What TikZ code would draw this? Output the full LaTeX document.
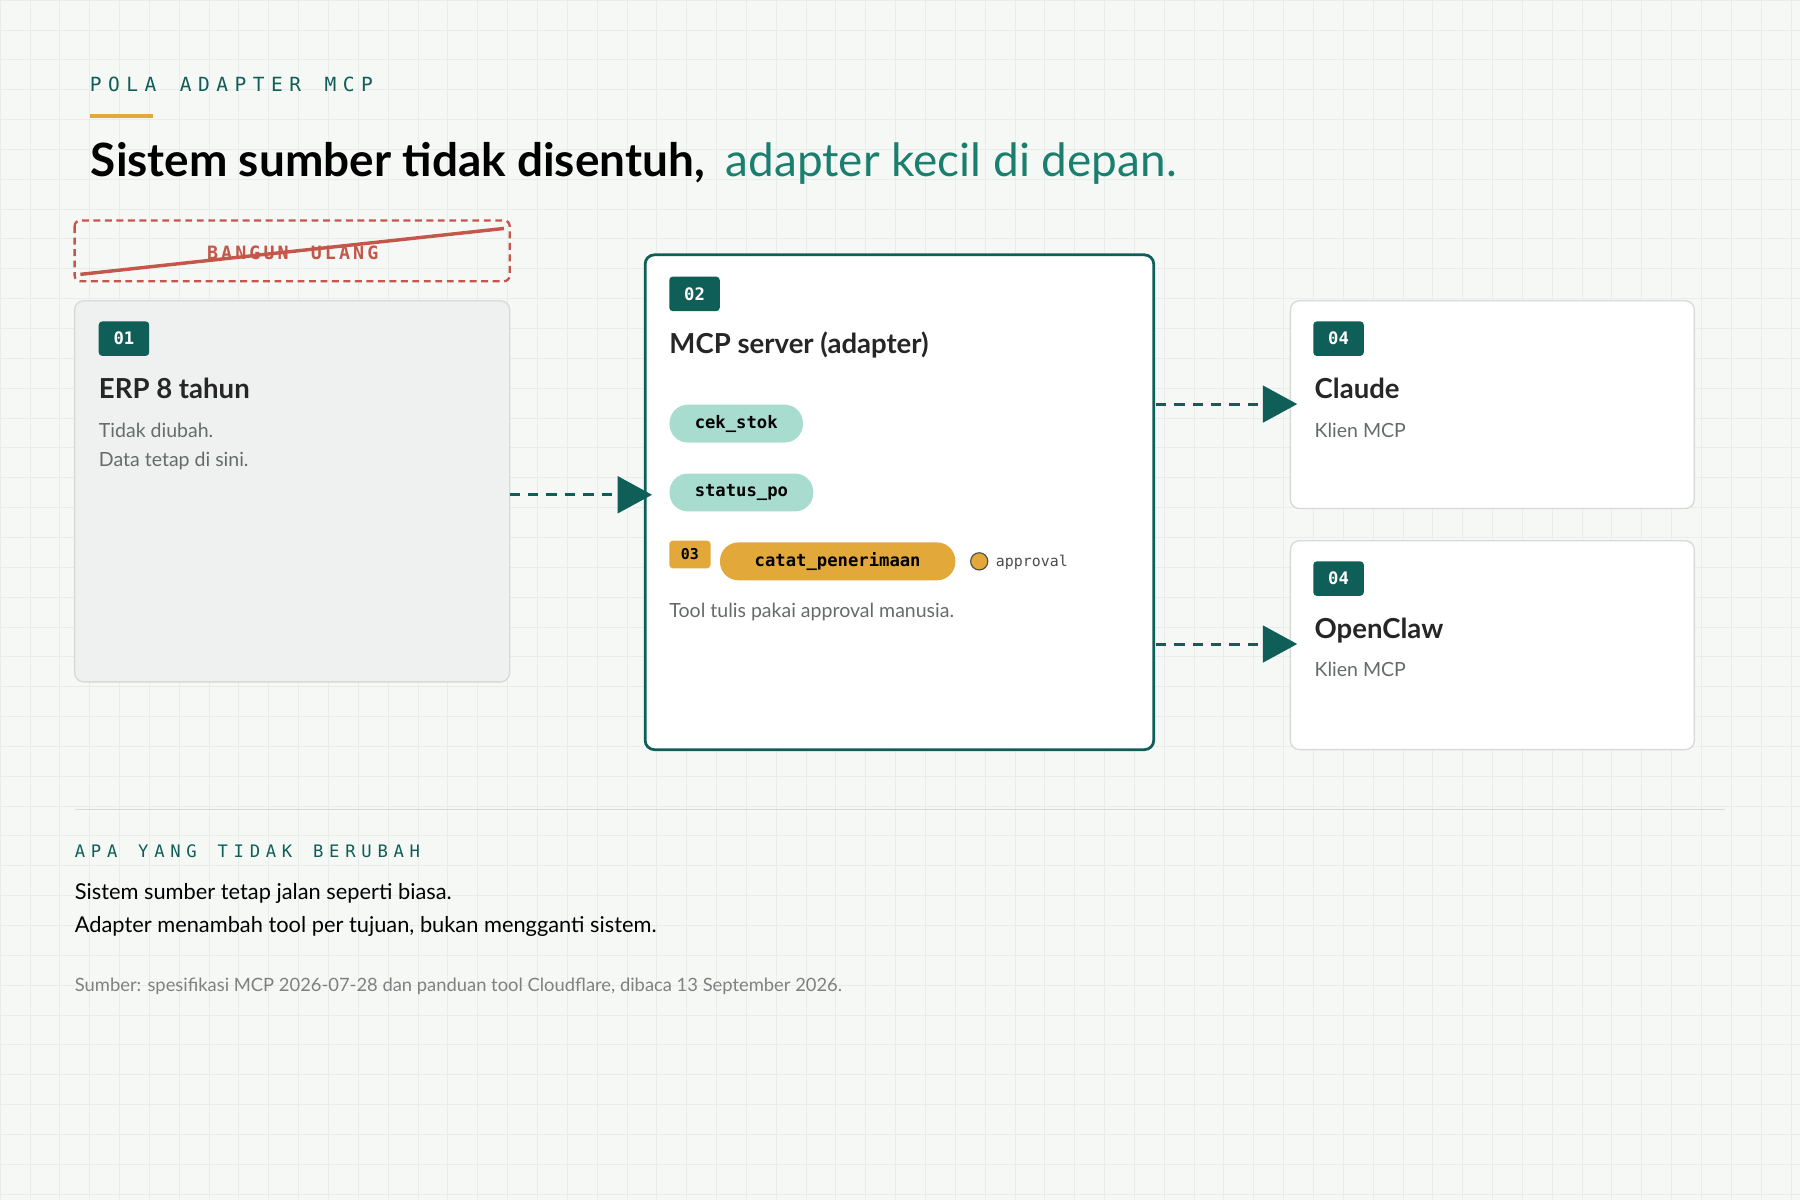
\documentclass[tikz,border=0pt]{standalone}
\usepackage{fontspec}
\setmainfont{Lato}
\newfontfamily\monof{DejaVu Sans Mono}
\usetikzlibrary{arrows.meta}
\definecolor{teal}{HTML}{0F5E57}
\definecolor{tealt}{HTML}{1A7F6E}
\definecolor{mint}{HTML}{A8DCCF}
\definecolor{amber}{HTML}{E3A83A}
\definecolor{redx}{HTML}{C4574A}
\definecolor{bg}{HTML}{F6F8F6}
\definecolor{gridc}{HTML}{E8ECEA}
\definecolor{grayt}{HTML}{666B6A}
\definecolor{boxg}{HTML}{EEF1EF}
\begin{document}
\begin{tikzpicture}[x=1pt,y=-1pt,
 card/.style={draw=#1,line width=1.2pt,rounded corners=8pt},
 badge/.style={fill=teal,text=white,rounded corners=3pt,font=\monof\bfseries\fontsize{15}{15}\selectfont,minimum width=44pt,minimum height=30pt,inner sep=0pt},
 tool/.style={fill=#1,rounded corners=16pt,font=\monof\bfseries\fontsize{15}{15}\selectfont,minimum height=33pt,inner xsep=22pt,inner ysep=0pt},
 ttl/.style={anchor=base west,inner sep=0pt,font=\bfseries\fontsize{24}{24}\selectfont,text=black!85},
 sub/.style={anchor=north west,inner sep=0pt,font=\fontsize{17}{26}\selectfont,text=grayt,align=left},
 arr/.style={teal,line width=2.6pt,dash pattern=on 9pt off 7pt,-{Triangle[length=30pt,width=32pt]}}]
\useasboundingbox (0,0) rectangle (1568,1045);
\fill[bg] (0,0) rectangle (1568,1045);
\foreach \i in {0,26,...,1568} \draw[gridc,line width=0.5pt] (\i,0)--(\i,1045);
\foreach \j in {0,26,...,1045} \draw[gridc,line width=0.5pt] (0,\j)--(1568,\j);
% header
\node[anchor=base west,inner sep=0pt,text=teal,font=\monof\fontsize{17}{17}\selectfont] (kicker) at (78,80) {P\,\,O\,\,L\,\,A\ \ A\,\,D\,\,A\,\,P\,\,T\,\,E\,\,R\ \ M\,\,C\,\,P};
\draw[amber,line width=3pt] (78,101)--(133,101);
\node[anchor=base west,font=\bfseries\fontsize{40}{40}\selectfont,inner sep=0pt] (title) at (79,154) {Sistem sumber tidak disentuh,};
\node[anchor=base west,font=\fontsize{40}{40}\selectfont,text=tealt,inner sep=0pt] (title2) at (632,154) {adapter kecil di depan.};
% bangun ulang
\draw[redx,line width=2pt,dash pattern=on 6pt off 4pt,rounded corners=5pt] (65,192) rectangle (444,245);
\node[text=redx,font=\monof\bfseries\fontsize{16}{16}\selectfont] (bu) at (255,220) {B\,A\,N\,G\,U\,N\ \ U\,L\,A\,N\,G};
\draw[redx,line width=3pt] (70,239)--(439,199);
% ERP
\draw[card=black!15,fill=boxg] (65,262) rectangle (444,594);
\node[badge] (b1) at (108,295) {01};
\node[ttl] (erp) at (86,347) {ERP 8 tahun};
\node[sub] (erpd) at (86,368) {Tidak diubah.\\Data tetap di sini.};
\coordinate (erpR) at (444,431);
% MCP
\draw[card=teal,fill=white,line width=2.4pt] (562,222) rectangle (1005,653);
\node[badge] (b2) at (605,256) {02};
\node[ttl] (mcp) at (583,308) {MCP server (adapter)};
\node[tool=mint,anchor=west] (t1) at (583,369) {cek\_stok};
\node[tool=mint,anchor=west] (t2) at (583,429) {status\_po};
\node[fill=amber,rounded corners=3pt,font=\monof\bfseries\fontsize{13}{13}\selectfont,minimum width=36pt,minimum height=24pt,inner sep=0pt] (b3) at (601,483) {03};
\node[tool=amber,anchor=west,minimum width=205pt] (t3) at (627,489) {catat\_penerimaan};
\draw[fill=amber,draw=black!70,line width=1pt] (853,489) circle (7.5pt);
\node[anchor=west,font=\monof\fontsize{13}{13}\selectfont,text=black!70] (ap) at (864,490) {approval};
\node[sub] (mcpd) at (583,525) {Tool tulis pakai approval manusia.};
% clients
\draw[card=black!15,fill=white] (1124,262) rectangle (1476,443);
\node[badge] (b4a) at (1166,295) {04};
\node[ttl] (cl) at (1145,347) {Claude};
\node[sub] (cld) at (1145,368) {Klien MCP};
\draw[card=black!15,fill=white] (1124,471) rectangle (1476,653);
\node[badge] (b4b) at (1166,504) {04};
\node[ttl] (oc) at (1145,556) {OpenClaw};
\node[sub] (ocd) at (1145,577) {Klien MCP};
\coordinate (m1) at (1007,352); \coordinate (c1) at (1130,352);
\coordinate (m2) at (1007,561); \coordinate (c2) at (1130,561);
\coordinate (mL) at (568,431);
\draw[arr] (erpR)--(mL);
\draw[arr] (m1)--(c1);
\draw[arr] (m2)--(c2);
% footer
\draw[black!15,line width=1pt] (65,705)--(1503,705);
\node[anchor=base west,inner sep=0pt,text=teal,font=\monof\fontsize{15}{15}\selectfont] (k2) at (65,747) {A\,\,P\,\,A\ \ Y\,\,A\,\,N\,\,G\ \ T\,\,I\,\,D\,\,A\,\,K\ \ B\,\,E\,\,R\,\,U\,\,B\,\,A\,\,H};
\node[anchor=north west,font=\fontsize{19}{29}\selectfont,align=left,inner sep=0pt] (ft) at (65,769) {Sistem sumber tetap jalan seperti biasa.\\Adapter menambah tool per tujuan, bukan mengganti sistem.};
\node[anchor=base west,font=\fontsize{16}{16}\selectfont,text=black!50,inner sep=0pt] (src) at (65,864) {Sumber: spesifikasi MCP 2026-07-28 dan panduan tool Cloudflare, dibaca 13 September 2026.};
\end{tikzpicture}
\end{document}
